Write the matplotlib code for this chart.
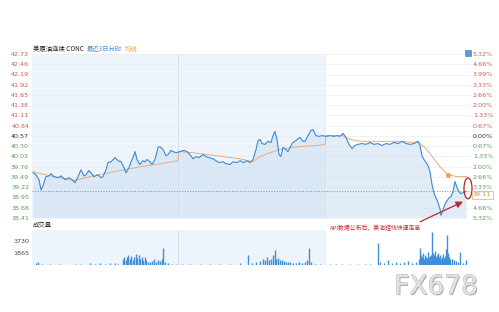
import numpy as np
import matplotlib
matplotlib.use("Agg")
import matplotlib.pyplot as plt
from matplotlib.patches import Ellipse, Rectangle
import matplotlib.patheffects as pe

plt.rcParams['font.family'] = ['Noto Sans CJK SC', 'DejaVu Sans']

# ---------------- data ----------------
# minute index across 3 sessions (each session ~147 units)
price_t = [1, 4, 7, 9, 11, 14, 17, 19, 22, 26, 29, 33, 37, 40, 43, 46, 49, 52, 54, 57, 59, 62, 66, 69, 71,
           74, 76, 79, 83, 86, 89, 92, 94, 97, 99, 101, 103, 105, 108, 111, 113, 115, 118, 120, 123, 126, 128,
           131, 134, 136, 139, 141, 144, 148, 152, 155, 158, 161, 164, 167, 171, 174, 177, 181, 184, 187, 191,
           194, 198, 201, 205, 208, 212, 215, 218, 221, 224, 226, 228, 230, 233, 236, 239, 241, 243, 245, 247,
           249, 251, 254, 256, 259, 261, 264, 266, 268, 271, 273, 276, 279, 281, 284, 287, 290, 294, 298, 302,
           305, 308, 311, 314, 317, 320, 323, 326, 330, 334, 338, 342, 346, 350, 354, 358, 362, 366, 370, 374,
           378, 382, 386, 388, 390, 392, 394, 396, 398, 400, 402, 404, 406, 408, 409, 411, 413, 415, 417, 419,
           421, 423, 425, 427, 429, 431, 434]
price = [39.60, 39.55, 39.42, 39.15, 39.26, 39.50, 39.52, 39.58, 39.50, 39.47, 39.52, 39.42, 39.47, 39.42,
         39.34, 39.50, 39.68, 39.52, 39.55, 39.66, 39.60, 39.50, 39.55, 39.47, 39.50, 39.68, 39.87, 39.89,
         40.00, 39.92, 39.89, 39.74, 39.60, 39.74, 39.89, 40.00, 40.16, 39.95, 39.82, 39.92, 39.89, 39.95,
         39.89, 39.82, 39.95, 40.27, 40.29, 40.21, 40.05, 40.08, 40.19, 40.16, 40.13, 40.16, 40.19, 40.16,
         40.08, 39.97, 40.03, 40.00, 40.08, 40.03, 40.00, 39.97, 39.92, 39.87, 39.89, 39.84, 39.82, 39.89,
         39.87, 39.92, 39.87, 39.92, 39.87, 39.95, 40.21, 40.45, 40.48, 40.37, 40.35, 40.43, 40.40, 40.58,
         40.69, 40.48, 40.08, 40.03, 40.27, 40.21, 40.16, 40.32, 40.40, 40.45, 40.50, 40.53, 40.43, 40.43,
         40.58, 40.72, 40.74, 40.58, 40.56, 40.58, 40.56, 40.58, 40.56, 40.58, 40.56, 40.64, 40.53, 40.35,
         40.24, 40.32, 40.35, 40.37, 40.35, 40.40, 40.35, 40.37, 40.32, 40.37, 40.35, 40.40, 40.37, 40.43,
         40.37, 40.35, 40.37, 40.43, 40.32, 40.05, 39.95, 39.87, 39.79, 39.63, 39.29, 39.07, 38.94, 38.81,
         38.65, 38.48, 38.62, 38.78, 38.86, 38.94, 38.97, 39.10, 39.37, 39.21, 39.10, 39.05, 39.08, 39.11]

avg_t = [1, 13, 28, 43, 58, 73, 88, 108, 128, 146, 147, 161, 175, 191, 208, 221, 228, 238, 251, 268, 285,
         293, 294, 311, 318, 328, 361, 387, 395, 401, 408, 416, 425, 435]
avg = [39.63, 39.55, 39.47, 39.40, 39.50, 39.58, 39.66, 39.76, 39.84, 39.92, 40.16, 40.13, 40.08, 40.03,
       39.97, 39.89, 40.03, 40.13, 40.24, 40.29, 40.32, 40.35, 40.58, 40.58, 40.48, 40.43, 40.43, 40.40,
       40.21, 40.00, 39.76, 39.55, 39.50, 39.50]

vol_t = [4, 6, 10, 18, 28, 43, 48, 58, 63, 68, 73, 78, 83, 86,
         91, 92, 94, 95, 96, 98, 99, 101, 102, 104, 105, 107, 108, 110, 111, 113, 114, 116, 118, 120, 122,
         124, 126, 128, 130, 131, 133, 136, 140, 144,
         150, 158, 168, 178, 188, 198, 208, 216, 220, 224, 228, 231, 233, 235, 237, 239, 241, 243, 244, 246,
         248, 250, 252, 254, 256, 258, 261, 264, 267, 270, 273, 275, 277, 279, 283, 288,
         298, 304, 310, 318, 326, 333, 338, 346, 348, 352, 356, 360, 364, 368, 372, 376, 380, 384, 387, 388,
         389, 390, 391, 392, 393, 394, 395, 396, 397, 398, 399, 400, 401, 402, 403, 404, 405, 406, 407, 408,
         409, 410, 411, 412, 413, 414, 415, 416, 417, 418, 420, 422, 424, 426, 428, 431, 434]
vol = [300, 500, 200, 150, 100, 150, 200, 250, 200, 300, 200, 250, 300, 200,
       900, 1300, 700, 1200, 1500, 1000, 1400, 800, 1300, 1700, 1100, 1500, 900, 1300, 800, 1200, 700, 500,
       400, 600, 900, 500, 700, 600, 1000, 2600, 400, 300, 200, 150,
       150, 100, 150, 200, 150, 200, 300, 1500, 300, 400, 600, 900, 700, 1200, 800, 1000, 1500, 2300, 900,
       1100, 800, 700, 600, 500, 400, 450, 350, 300, 400, 300, 500, 800, 2600, 400, 200, 150,
       100, 100, 150, 100, 150, 200, 150, 3400, 400, 300, 800, 300, 500, 300, 400, 600, 300, 500, 900, 2600,
       1500, 1200, 1800, 1000, 1500, 1300, 1100, 2000, 1200, 1400, 1600, 5200, 1800, 1500, 2200, 1300, 1600,
       1900, 1200, 1500, 1000, 1300, 1700, 1100, 1400, 2500, 4600, 1800, 1200, 1000, 900, 800, 600, 500,
       2000, 300, 700]

left_labels = ['42.73', '42.46', '42.19', '41.92', '41.65', '41.38', '41.11', '40.84', '40.57',
               '40.30', '40.03', '39.76', '39.49', '39.22', '38.95', '38.68', '38.41']
right_labels = ['5.32%', '4.66%', '3.99%', '3.33%', '2.66%', '2.00%', '1.33%', '0.67%', '0.00%',
                '0.67%', '1.33%', '2.00%', '2.66%', '3.33%', '3.99%', '4.66%', '5.32%']
vol_ticks = [1865, 3730]
prev_close = 40.57
last_price = 39.11
session_len = 146.5
t_max = 438

# ---------------- figure ----------------
W, H = 499, 312
fig = plt.figure(figsize=(W / 100, H / 100), dpi=100)
fig.patch.set_facecolor('white')

def box(x0, y0, x1, y1):
    return [x0 / W, 1 - y1 / H, (x1 - x0) / W, (y1 - y0) / H]

ax = fig.add_axes(box(32, 54, 470, 218))
axv = fig.add_axes(box(32, 230, 470, 265))

red = '#c8604f'
green = '#5a9e5a'
ymin, ymax = 38.41, 42.73
ticks = [float(s) for s in left_labels]

for a in (ax, axv):
    a.set_xlim(0, t_max)
    for s in a.spines.values():
        s.set_visible(False)
    a.axvspan(0, 2 * session_len, color='#eef4fb', zorder=0, lw=0)
    a.axvline(session_len, color='#d5dce4', lw=0.6, zorder=1)
    a.axvline(2 * session_len, color='#e4e8ec', lw=0.6, zorder=1)

ax.set_ylim(ymin, ymax)
for v in ticks:
    ax.axhline(v, color='#e9ecef', lw=0.5, zorder=1)

# fill under price
ax.fill_between(price_t, price, ymin, color='#cfe0f3', alpha=0.6, lw=0, zorder=2)
ax.plot(price_t, price, color='#3b8ad3', lw=0.8, zorder=4)
ax.plot(avg_t, avg, color='#e3ae80', lw=0.7, zorder=3)
ax.plot([avg_t[-3]], [avg[-3]], 'o', color='#e8a050', ms=2.5, zorder=5)
ax.axhline(last_price, color='#7f9fbf', lw=0.7, ls=(0, (1.2, 1.5)), zorder=3)

ax.set_yticks(ticks)
ax.set_yticklabels(left_labels, family='DejaVu Sans')
ax.tick_params(axis='y', length=0, pad=2, labelsize=4.6)
ax.set_xticks([])
for lab, v in zip(ax.get_yticklabels(), ticks):
    lab.set_color(red if v > prev_close + 1e-6 else (green if v < prev_close - 1e-6 else '#333333'))

ax2 = ax.twinx()
ax2.set_ylim(ymin, ymax)
for s in ax2.spines.values():
    s.set_visible(False)
ax2.set_yticks(ticks)
ax2.set_yticklabels(right_labels, family='DejaVu Sans')
ax2.tick_params(axis='y', length=0, pad=2, labelsize=4.6)
for lab, v in zip(ax2.get_yticklabels(), ticks):
    lab.set_color(red if v > prev_close + 1e-6 else (green if v < prev_close - 1e-6 else '#333333'))
    # the label hidden behind the last-price box in the reference
    if last_price - 0.27 < v < last_price:
        lab.set_visible(False)

# price box
ax2.text(t_max + 3, last_price - 0.09, f'{last_price:.2f}', fontsize=4.6, color='#c89050', va='center',
         ha='left', family='DejaVu Sans',
         bbox=dict(boxstyle='square,pad=0.2', fc='white', ec='#e8b878', lw=0.6),
         clip_on=False, zorder=10)

# red ellipse and arrow
ax.add_patch(Ellipse((price_t[-1] + 2, last_price + 0.08), 8, 0.55, fill=False, ec='#b8242a', lw=0.9,
                     clip_on=False, zorder=8))
ax.annotate('', xy=(431, 38.84), xytext=(388, 38.31),
            arrowprops=dict(arrowstyle='-|>,head_width=0.2,head_length=0.4', color='#c0262c', lw=0.9,
                            shrinkA=0, shrinkB=0),
            annotation_clip=False, zorder=8)
fig.text(330 / W, 1 - 228 / H, 'API数据公布后，美油短线快速走高', fontsize=4.2, color='#c0262c',
         va='center', ha='left')

# header
t1 = fig.text(33 / W, 1 - 49 / H, '美原油连续 CONC', fontsize=4.6, color='#222222', va='center')
t2 = fig.text(0, 0, '最近3日分时', fontsize=4.6, color='#4a90d9', va='center')
t3 = fig.text(0, 0, '均线', fontsize=4.6, color='#e0a838', va='center')
fig.canvas.draw()
r = fig.canvas.get_renderer()
bb1 = t1.get_window_extent(r)
t2.set_position(((bb1.x1 + 3) / W, 1 - 49 / H))
bb2 = t2.get_window_extent(r)
t3.set_position(((bb2.x1 + 3) / W, 1 - 49 / H))
fig.add_artist(Rectangle((465 / W, 1 - 56 / H), 6 / W, 6 / H, transform=fig.transFigure,
                         fc='#5b9bd5', ec='#3a78b8', lw=0.4))

# volume
axv.set_ylim(0, 5440)
axv.vlines(vol_t, 0, vol, color='#3f8fd8', lw=1.0, zorder=3)
axv.set_yticks(vol_ticks)
axv.set_yticklabels([str(v) for v in vol_ticks], family='DejaVu Sans')
axv.tick_params(axis='y', length=0, pad=2, labelsize=4.6, labelcolor='#444444')
axv.set_xticks([])
fig.text(33 / W, 1 - 225 / H, '成交量', fontsize=4.6, color='#333333', va='center')

# watermark
fig.text(436 / W, 1 - 287 / H, 'FX678', fontsize=19, color='#e2e2e2', ha='center', va='center',
         family='DejaVu Sans',
         path_effects=[pe.withSimplePatchShadow(offset=(0.8, -0.8), shadow_rgbFace='#9a9a9a', alpha=0.8),
                       pe.withStroke(linewidth=0.6, foreground='#b5b5b5')])

fig.savefig('out.png', dpi=100, facecolor='white')
